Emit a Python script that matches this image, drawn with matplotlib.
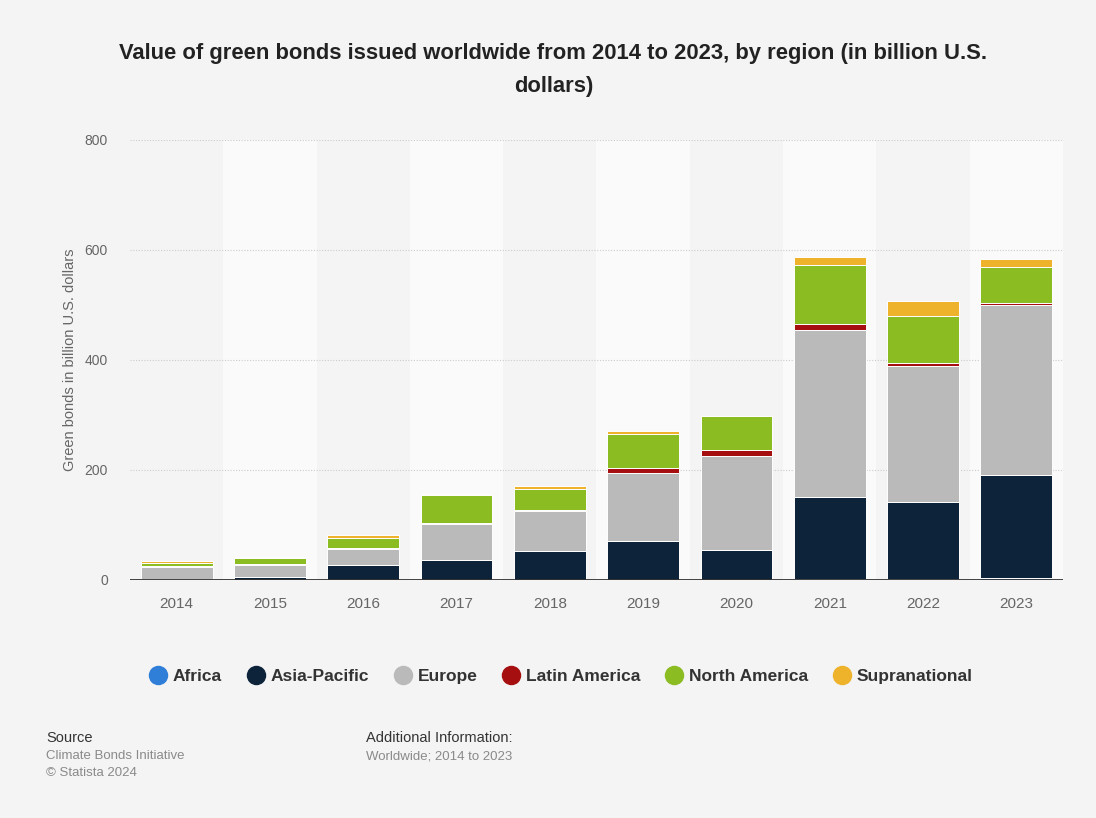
import numpy as np
import matplotlib
matplotlib.use("Agg")
import matplotlib.pyplot as plt
from matplotlib.lines import Line2D

plt.rcParams['font.family'] = ['Liberation Sans', 'DejaVu Sans']

# Daten (Milliarden US-Dollar)
years = ['2014', '2015', '2016', '2017', '2018', '2019', '2020', '2021', '2022', '2023']
regions = ['Africa', 'Asia-Pacific', 'Europe', 'Latin America', 'North America', 'Supranational']
africa = [0, 0, 0, 0, 0, 0, 0.5, 1, 1, 3]
asia_pacific = [2, 5, 27, 36, 53, 71, 54, 150, 140, 188]
europe = [22, 23, 29, 66, 73, 124, 171, 304, 248, 309]
latin_america = [0.5, 1, 2, 1, 2, 8, 10, 10, 6, 4]
north_america = [6, 11, 19, 52, 37, 63, 62, 108, 85, 65]
supranational = [4, 1, 5, 0.5, 5, 5, 1, 15, 28, 15]

series = [africa, asia_pacific, europe, latin_america, north_america, supranational]
colors = ['#2f7ed8', '#0d233a', '#bababa', '#a50f0f', '#8bbc21', '#eeb32b']

fig = plt.figure(figsize=(10.96, 8.18), dpi=100)
fig.patch.set_facecolor('#f4f4f4')
ax = fig.add_axes([0.1186, 0.291, 0.8513, 0.5379])
ax.set_facecolor('#f4f4f4')

x = np.arange(len(years))

# abwechselnde Hintergrundstreifen
for i in x:
    if i % 2 == 1:
        ax.axvspan(i - 0.5, i + 0.5, color='#fafafa', zorder=0, lw=0)

# Gitterlinien
for v in [200, 400, 600, 800]:
    ax.axhline(v, color='#cccccc', lw=0.8, ls=(0, (1, 1.5)), zorder=1)

bottom = np.zeros(len(years))
for vals, col, name in zip(series, colors, regions):
    vals = np.array(vals, dtype=float)
    ax.bar(x, vals, 0.77, bottom=bottom, color=col, edgecolor='white',
           linewidth=0.7, zorder=3, label=name)
    bottom += vals

ax.axhline(0, color='#333333', lw=1.3, zorder=4)

ax.set_xlim(-0.5, 9.5)
ax.set_ylim(0, 800)
ax.set_xticks(x)
ax.set_xticklabels(years, fontsize=11, color='#666666')
ax.set_yticks([0, 200, 400, 600, 800])
ax.set_yticklabels(['0', '200', '400', '600', '800'], fontsize=10, color='#666666')
ax.tick_params(axis='both', length=0)
ax.tick_params(axis='x', pad=12)
ax.tick_params(axis='y', pad=16)
for s in ax.spines.values():
    s.set_visible(False)

ax.set_ylabel('Green bonds in billion U.S. dollars', fontsize=10.5, color='#666666', labelpad=5)

fig.text(0.505, 0.948, 'Value of green bonds issued worldwide from 2014 to 2023, by region (in billion U.S.\ndollars)',
         ha='center', va='top', fontsize=15.8, fontweight='bold', color='#222222', linespacing=1.75)

# Legende
handles = [Line2D([0], [0], marker='o', color='none', markerfacecolor=c, markeredgecolor=c,
                  markersize=13) for c in colors]
leg = fig.legend(handles, regions, loc='center', bbox_to_anchor=(0.51, 0.173), ncol=6,
                 frameon=False, handletextpad=0.1, columnspacing=1.2, handlelength=1.5,
                 prop={'size': 12.5, 'weight': 'bold'})
for t in leg.get_texts():
    t.set_color('#333333')

fig.text(0.042, 0.093, 'Source', fontsize=10.5, color='#333333')
fig.text(0.042, 0.072, 'Climate Bonds Initiative', fontsize=9.5, color='#8a8a8a')
fig.text(0.042, 0.051, '\u00a9 Statista 2024', fontsize=9.5, color='#8a8a8a')
fig.text(0.334, 0.093, 'Additional Information:', fontsize=10.5, color='#333333')
fig.text(0.334, 0.072, 'Worldwide; 2014 to 2023', fontsize=9.5, color='#8a8a8a')

fig.savefig('out.png', dpi=100, facecolor=fig.get_facecolor())
